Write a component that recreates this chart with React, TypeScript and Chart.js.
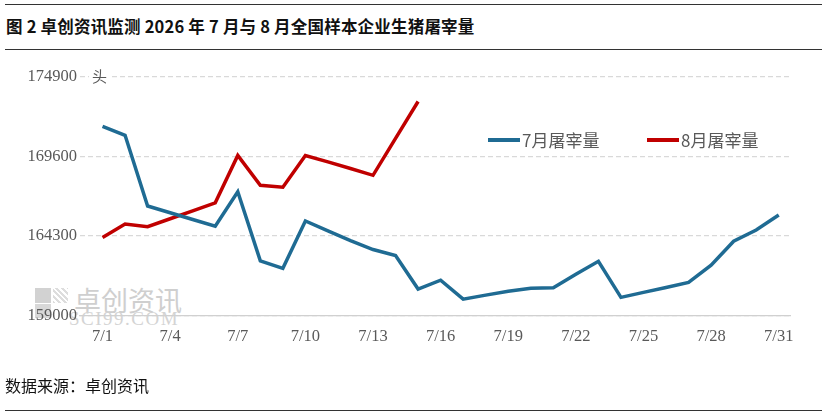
import React, { useEffect, useRef } from "react";
import { Chart, registerables } from "chart.js";

Chart.register(...registerables);

const days: string[] = Array.from({ length: 31 }, (_, i) => `7/${i + 1}`);
const tickDays: number[] = [1, 4, 7, 10, 13, 16, 19, 22, 25, 28, 31];
const yTicks: number[] = [159000, 164300, 169600, 174900];

const julyValues: number[] = [
  171600, 171000, 166300, 165850, 165400, 164950, 167250, 162650, 162150, 165300,
  164650, 164000, 163400, 163000, 160770, 161360, 160100, 160370, 160620, 160820,
  160860, 161760, 162620, 160220, 160550, 160880, 161210, 162360, 163950, 164700,
  165700,
];
const augustValues: number[] = [
  164200, 165100, 164920, 165450, 165980, 166510, 169660, 167680, 167550, 169660,
  169230, 168790, 168340, 170800, 173250,
];

const seriesNames: string[] = ["7月屠宰量", "8月屠宰量"];
const seriesColors: string[] = ["#1f6b93", "#c00000"];

const SERIF = "'Liberation Serif', 'Noto Sans CJK SC', serif";
const CJK = "'Noto Sans CJK SC', 'Liberation Sans', sans-serif";

export default function App() {
  const ref = useRef<HTMLCanvasElement | null>(null);

  useEffect(() => {
    if (!ref.current) return;
    const toPts = (vals: number[]) => vals.map((v, i) => ({ x: i + 1, y: v }));
    const chart = new Chart(ref.current, {
      type: "line",
      data: {
        datasets: [
          {
            label: seriesNames[0],
            data: toPts(julyValues),
            borderColor: seriesColors[0],
            backgroundColor: seriesColors[0],
            borderWidth: 3.5,
            pointRadius: 0,
            tension: 0,
          },
          {
            label: seriesNames[1],
            data: toPts(augustValues),
            borderColor: seriesColors[1],
            backgroundColor: seriesColors[1],
            borderWidth: 3.5,
            pointRadius: 0,
            tension: 0,
          },
        ],
      },
      options: {
        animation: false,
        responsive: false,
        maintainAspectRatio: false,
        layout: { padding: { left: 0, right: 37, top: 76.7, bottom: 0 } },
        plugins: {
          legend: { display: false },
          tooltip: { enabled: false },
        },
        scales: {
          x: {
            type: "linear",
            min: 0,
            max: 31.5,
            afterBuildTicks: (scale: any) => {
              scale.ticks = tickDays.map((d) => ({ value: d }));
            },
            afterFit: (scale: any) => {
              scale.height = 416 - 315.7;
            },
            ticks: {
              autoSkip: false,
              maxRotation: 0,
              padding: 11,
              color: "#595959",
              font: { family: SERIF, size: 16.5 },
              callback: (v: any) => days[Number(v) - 1] ?? "",
            },
            grid: { display: false, drawTicks: false },
            border: { display: true, color: "#d0d0d0", width: 1.2 },
          },
          y: {
            min: yTicks[0],
            max: yTicks[yTicks.length - 1],
            afterBuildTicks: (scale: any) => {
              scale.ticks = yTicks.map((v) => ({ value: v }));
            },
            afterFit: (scale: any) => {
              scale.width = 80;
            },
            ticks: {
              padding: 3,
              color: "#595959",
              font: { family: SERIF, size: 16.5 },
              callback: (v: any) => String(v),
            },
            grid: { color: "#d9d9d9", lineWidth: 1.2, drawTicks: false },
            border: { display: false, dash: [5, 3] },
          },
        },
      },
    });
    return () => chart.destroy();
  }, []);

  const legendPos = [488, 647];

  return (
    <div
      style={{
        position: "absolute",
        left: 0,
        top: 0,
        width: 827,
        height: 416,
        background: "#fff",
        overflow: "hidden",
      }}
    >
      <div style={{ position: "absolute", left: 5, top: 4, width: 817, height: 0, borderTop: "1.5px solid #333" }} />
      <div
        style={{
          position: "absolute",
          left: 6,
          top: 15,
          fontFamily: CJK,
          fontWeight: 700,
          fontSize: 16.5,
          color: "#111",
          whiteSpace: "nowrap",
          lineHeight: "22px",
          letterSpacing: 0.2,
        }}
      >
        图 2 卓创资讯监测 2026 年 7 月与 8 月全国样本企业生猪屠宰量
      </div>
      <div style={{ position: "absolute", left: 5, top: 49, width: 817, height: 0, borderTop: "1.5px solid #333" }} />

      {/* watermark */}
      <div style={{ position: "absolute", left: 35, top: 288, width: 16, height: 15, background: "#d2d2d2" }} />
      <div style={{ position: "absolute", left: 35, top: 304, width: 16, height: 14, background: "#d8d8d8" }} />
      <div style={{ position: "absolute", left: 53, top: 288, width: 15, height: 15, background: "repeating-linear-gradient(45deg,#ddd 0 2px,#fff 2px 4px)" }} />
      <div
        style={{
          position: "absolute",
          left: 74,
          top: 285,
          fontFamily: CJK,
          fontSize: 27,
          lineHeight: "30px",
          color: "#cfcfcf",
          whiteSpace: "nowrap",
        }}
      >
        卓创资讯
      </div>
      <div
        style={{
          position: "absolute",
          left: 69,
          top: 309,
          fontFamily: SERIF,
          fontSize: 19,
          lineHeight: "20px",
          color: "#d4d4d4",
          letterSpacing: 1.5,
          whiteSpace: "nowrap",
        }}
      >
        SCI99.COM
      </div>

      <canvas ref={ref} width={827} height={416} style={{ position: "absolute", left: 0, top: 0, width: 827, height: 416 }} />

      <div
        style={{
          position: "absolute",
          left: 89,
          top: 66,
          padding: "0 3px",
          background: "#fff",
          fontFamily: CJK,
          fontSize: 15,
          lineHeight: "20px",
          color: "#595959",
        }}
      >
        头
      </div>

      {seriesNames.map((name, i) => (
        <div
          key={name}
          style={{
            position: "absolute",
            left: legendPos[i],
            top: 129,
            display: "flex",
            alignItems: "center",
            height: 22,
            whiteSpace: "nowrap",
          }}
        >
          <div style={{ width: 32, height: 3.5, background: seriesColors[i], marginRight: 2 }} />
          <span style={{ fontFamily: CJK, fontSize: 17, color: "#595959", lineHeight: "22px" }}>{name}</span>
        </div>
      ))}

      <div
        style={{
          position: "absolute",
          left: 5,
          top: 374,
          fontFamily: CJK,
          fontSize: 16,
          lineHeight: "22px",
          color: "#111",
          whiteSpace: "nowrap",
        }}
      >
        数据来源：卓创资讯
      </div>
      <div style={{ position: "absolute", left: 5, top: 410, width: 817, height: 0, borderTop: "1.5px solid #333" }} />
    </div>
  );
}
